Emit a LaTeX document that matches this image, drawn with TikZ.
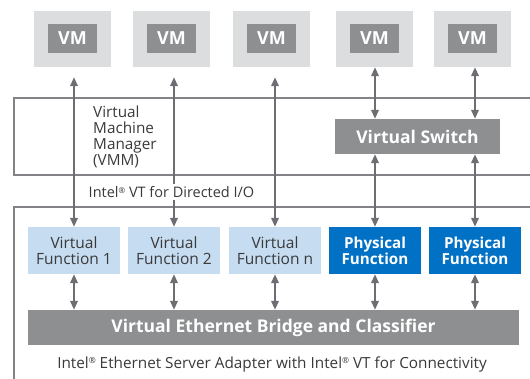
\documentclass[tikz,border=0pt]{standalone}
\usepackage{fontspec}
\setmainfont{Open Sans}
\usetikzlibrary{arrows.meta}
\definecolor{vmlight}{HTML}{DCDDDE}
\definecolor{vmdark}{HTML}{8E8F91}
\definecolor{frameg}{HTML}{828386}
\definecolor{arrowg}{HTML}{6D6E71}
\definecolor{vfblue}{HTML}{C6DCF0}
\definecolor{pfblue}{HTML}{0071C5}
\definecolor{txt}{HTML}{3A3A3C}
\newcommand{\regmark}{\raisebox{0.55ex}{\scalebox{0.55}{®}}}
\begin{document}
\begin{tikzpicture}[x=1pt,y=-1pt,
  vmouter/.style={fill=vmlight,draw=none,minimum width=77pt,minimum height=56pt,inner sep=0pt},
  vminner/.style={fill=vmdark,draw=none,minimum width=49pt,minimum height=29pt,inner sep=0pt,
    text=white,font=\fontsize{18}{18}\selectfont\bfseries},
  graybar/.style={fill=vmdark,draw=none,inner sep=0pt,text=white,font=\fontsize{17.5}{17.5}\selectfont\bfseries},
  funcbox/.style={draw=none,minimum width=92pt,minimum height=47pt,inner sep=0pt,align=center,
    font=\fontsize{15.5}{16}\selectfont},
  vfbox/.style={funcbox,fill=vfblue,text=txt},
  pfbox/.style={funcbox,fill=pfblue,text=white,font=\fontsize{15.2}{16}\selectfont\bfseries},
  frame/.style={draw=frameg,line width=2.5pt},
  arr/.style={draw=arrowg,line width=2pt,{Triangle[width=7.5pt,length=9pt]}-{Triangle[width=7.5pt,length=9pt]}},
  lbl/.style={text=txt,inner sep=1pt,font=\fontsize{15.3}{15.7}\selectfont}
]
\useasboundingbox[fill=white] (0,0) rectangle (530,379);

% frames
\draw[frame] (530,98) -- (14,98) -- (14,175) -- (530,175);
\draw[frame] (530,207) -- (14,207) -- (14,380);

% VMs
\foreach \i/\x in {1/72.5,2/171.5,3/271.5,4/374.5,5/472.5}{
  \node[vmouter] (vm\i) at (\x,39) {};
  \node[vminner] (vmi\i) at (\x,38.5) {VM};
}

% virtual switch
\node[graybar,minimum width=165pt,minimum height=35pt] (vs) at (417.5,136.5) {Virtual Switch};

% functions
\node[vfbox] (vf1) at (74,250.5) {Virtual\\Function 1};
\node[vfbox] (vf2) at (174,250.5) {Virtual\\Function 2};
\node[vfbox] (vf3) at (275,250.5) {Virtual\\Function n};
\node[pfbox] (pf1) at (375,250.5) {Physical\\Function};
\node[pfbox] (pf2) at (475,250.5) {Physical\\Function};

% bridge
\node[graybar,minimum width=491pt,minimum height=35pt] (br) at (273.5,327.5) {Virtual Ethernet Bridge and Classifier};

% arrows
\foreach \n in {vf1,vf2,vf3}{
  \draw[arr] ([yshift=-10pt]vm1.south -| \n.north) -- (\n.north);
}
\draw[arr] (vm4.south -| pf1.north) -- (vs.north -| pf1.north);
\draw[arr] (vm5.south -| pf2.north) -- (vs.north -| pf2.north);
\draw[arr] (vs.south -| pf1.north) -- (pf1.north);
\draw[arr] (vs.south -| pf2.north) -- (pf2.north);
\foreach \n in {vf1,vf2,vf3,pf1,pf2}{
  \draw[arr] (\n.south) -- (br.north -| \n.south);
}

% labels
\node[lbl,anchor=north west,align=left,font=\fontsize{15.3}{16}\selectfont] (vmm) at (92,104.5) {Virtual\\Machine\\Manager\\(VMM)};
\node[lbl,fill=white,inner sep=2pt,font=\fontsize{14.5}{15}\selectfont] (vtd) at (171.5,192) {Intel\regmark\ VT for Directed I/O};
\node[lbl] (vtc) at (272,364) {Intel\regmark\ Ethernet Server Adapter with Intel\regmark\ VT for Connectivity};
\end{tikzpicture}
\end{document}
